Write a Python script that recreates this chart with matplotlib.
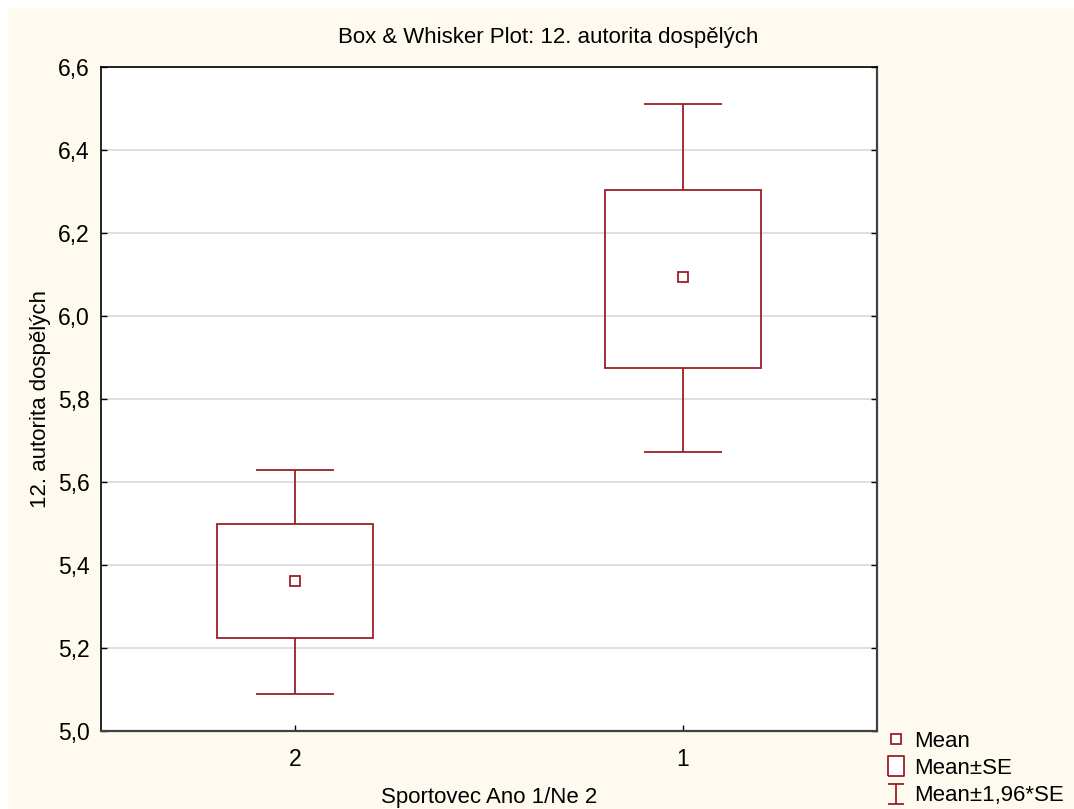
import matplotlib
matplotlib.use("Agg")
import matplotlib.pyplot as plt
from matplotlib.lines import Line2D
from matplotlib.patches import Rectangle
from matplotlib.path import Path

plt.rcParams["font.family"] = ["Liberation Sans", "DejaVu Sans"]

# values
groups = ["2", "1"]
means = [5.361, 6.094]
se_low = [5.224, 5.875]
se_high = [5.499, 6.304]
ci_low = [5.089, 5.672]
ci_high = [5.629, 6.511]
y_ticks = [5.0, 5.2, 5.4, 5.6, 5.8, 6.0, 6.2, 6.4, 6.6]
y_tick_labels = ["5,0", "5,2", "5,4", "5,6", "5,8", "6,0", "6,2", "6,4", "6,6"]

red = "#9c1f26"
cream = "#fffaf0"
lw = 1.3

fig = plt.figure(figsize=(10.74, 8.09), dpi=100, facecolor="white")
fig.patches.append(Rectangle((8 / 1074, 0), 1, 1 - 8 / 809, transform=fig.transFigure,
                             facecolor=cream, edgecolor="none", zorder=-10))
ax = fig.add_axes([101 / 1074, 1 - 731 / 809, 776 / 1074, 664 / 809])
ax.set_facecolor("white")

x = list(range(len(groups)))
box_w = 0.4
cap_w = 0.2

ax.bar(x, [h - l for h, l in zip(se_high, se_low)], bottom=se_low, width=box_w,
       fill=False, edgecolor=red, linewidth=lw, zorder=3)
ax.vlines(x, se_high, ci_high, color=red, linewidth=lw, zorder=3)
ax.vlines(x, ci_low, se_low, color=red, linewidth=lw, zorder=3)
ax.hlines(ci_high, [i - cap_w / 2 for i in x], [i + cap_w / 2 for i in x], color=red, linewidth=lw, zorder=3)
ax.hlines(ci_low, [i - cap_w / 2 for i in x], [i + cap_w / 2 for i in x], color=red, linewidth=lw, zorder=3)
ax.plot(x, means, linestyle="none", marker="s", markersize=6.8, markerfacecolor="white",
        markeredgecolor=red, markeredgewidth=lw, zorder=4)

ax.set_xlim(-0.5, 1.5)
ax.set_ylim(5.0, 6.6)
ax.set_xticks(x)
ax.set_xticklabels(groups)
ax.set_yticks(y_ticks)
ax.set_yticklabels(y_tick_labels)
ax.yaxis.grid(True, color="#dcdcdc", linewidth=1.3)
ax.set_axisbelow(True)

ax.tick_params(axis="y", direction="in", length=4, width=1, pad=8, labelsize=16.5,
               right=True, colors="black")
ax.tick_params(axis="x", direction="in", length=4, width=1, pad=12, labelsize=16.5)
for side in ["left", "top"]:
    ax.spines[side].set_color("black")
    ax.spines[side].set_linewidth(1.2)
for side in ["right", "bottom"]:
    ax.spines[side].set_color("#404040")
    ax.spines[side].set_linewidth(1.6)

ax.set_xlabel("Sportovec Ano 1/Ne 2", fontsize=16, labelpad=12)
ax.set_ylabel("12. autorita dospělých", fontsize=16, labelpad=5)
fig.text(0.510, 1 - 37 / 809, "Box & Whisker Plot: 12. autorita dospělých",
         ha="center", va="center", fontsize=16)

# legend
box_path = Path([(-0.4, -0.5), (0.4, -0.5), (0.4, 0.5), (-0.4, 0.5), (-0.4, -0.5)])
ibeam = Path([(-0.4, 0.5), (0.4, 0.5), (0, 0.5), (0, -0.5), (-0.4, -0.5), (0.4, -0.5)],
             [Path.MOVETO, Path.LINETO, Path.MOVETO, Path.LINETO, Path.MOVETO, Path.LINETO])
handles = [
    Line2D([], [], linestyle="none", marker="s", markersize=6.8, markerfacecolor="white",
           markeredgecolor=red, markeredgewidth=lw),
    Line2D([], [], linestyle="none", marker=box_path, markersize=15, markerfacecolor="white",
           markeredgecolor=red, markeredgewidth=lw),
    Line2D([], [], linestyle="none", marker=ibeam, markersize=14, markerfacecolor="none",
           markeredgecolor=red, markeredgewidth=lw),
]
fig.legend(handles, ["Mean", "Mean±SE", "Mean±1,96*SE"], loc="upper left",
           bbox_to_anchor=(876 / 1074, 1 - 722 / 809), frameon=False, fontsize=16,
           handlelength=1.0, handletextpad=0.3, labelspacing=0.28, borderaxespad=0)

fig.savefig("out.png", dpi=100, facecolor=fig.get_facecolor())
